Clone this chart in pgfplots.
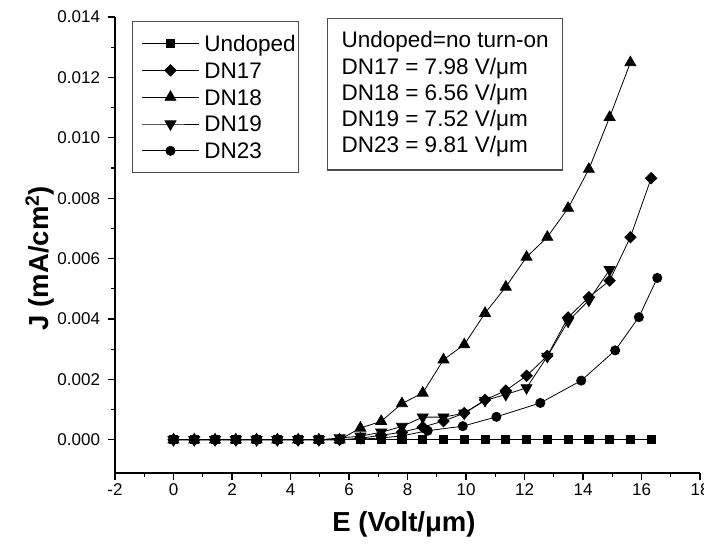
\documentclass[border=0pt]{standalone}
\usepackage{pgfplots}
\pgfplotsset{compat=1.18}
\usepackage{fontspec}
\setmainfont{Liberation Sans}
\begin{document}
\begin{tikzpicture}
\useasboundingbox (0,0) rectangle (704pt,545pt);
\begin{axis}[
  at={(115pt,72pt)}, anchor=south west,
  scale only axis, width=585pt, height=456pt,
  xmin=-2, xmax=18, ymin=-0.0011, ymax=0.014,
  axis x line=bottom, axis y line=left,
  axis line style={-, line width=1.2pt},
  xtick={-2,0,2,4,6,8,10,12,14,16,18}, minor x tick num=1,
  ytick={0,0.002,0.004,0.006,0.008,0.010,0.012,0.014}, minor y tick num=1,
  tick align=outside, major tick length=7.5pt, minor tick length=4pt,
  tick style={line width=1.2pt, black},
  scaled y ticks=false,
  /pgf/number format/assume math mode=true,
  xticklabel style={font=\fontsize{17}{20}\selectfont},
  yticklabel style={font=\fontsize{17}{20}\selectfont, xshift=-4pt,
    /pgf/number format/.cd, fixed, fixed zerofill, precision=3},
  xlabel={E (Volt/μm)}, ylabel={J (mA/cm\textsuperscript{2})},
  label style={font=\bfseries\fontsize{27.5}{30}\selectfont},
  xlabel style={at={(axis description cs:0.494,0)}, anchor=base, yshift=-59pt},
  ylabel style={at={(axis description cs:-0.1145,0.4715)}, anchor=base},
  every axis plot/.append style={line width=0.8pt, black},
  legend cell align=left,
  legend style={at={(axis description cs:0.029,0.991)}, anchor=north west,
    draw=black!70, line width=1.2pt, inner xsep=1pt, inner ysep=8.5pt,
    font=\fontsize{22.5}{26}\selectfont, column sep=3pt,
    nodes={inner xsep=2pt, inner ysep=3.4pt, text height=18pt, text depth=2pt}},
  legend image code/.code={
    \draw[mark repeat=2,mark phase=2,#1] plot coordinates {(0pt,0pt) (28.5pt,0pt) (57pt,0pt)};
    \path (-8pt,0pt);
  },
]
% Undoped
\addplot[mark=square*, mark size=4.1pt, mark options={solid, fill=black}] coordinates {
(0,0) (0.71,0) (1.42,0) (2.13,0) (2.84,0) (3.55,0) (4.26,0) (4.97,0) (5.68,0) (6.39,0) (7.10,0) (7.81,0)
(8.52,0) (9.23,0) (9.94,0) (10.65,0) (11.36,0) (12.07,0) (12.78,0) (13.49,0) (14.20,0) (14.91,0) (15.62,0) (16.33,0)};
\addlegendentry{Undoped}
% DN17
\addplot[mark=square*, mark size=4pt, mark options={solid, fill=black, rotate=45}] coordinates {
(0,0) (0.71,0) (1.42,0) (2.13,0) (2.84,0) (3.55,0) (4.26,0) (4.97,0) (5.68,0) (6.39,0.00005) (7.10,0.00015) (7.81,0.00025)
(8.52,0.00042) (9.23,0.00062) (9.94,0.00088) (10.65,0.00132) (11.36,0.00163) (12.07,0.00212) (12.78,0.00278) (13.49,0.00405)
(14.20,0.00472) (14.91,0.00527) (15.62,0.00671) (16.33,0.00866)};
\addlegendentry{DN17}
% DN18
\addplot[mark=triangle*, mark size=6.3pt, mark options={solid, fill=black}] coordinates {
(0,0) (0.71,0) (1.42,0) (2.13,0) (2.84,0) (3.55,0) (4.26,0) (4.97,0) (5.68,0) (6.39,0.00039) (7.10,0.00061) (7.81,0.00120)
(8.52,0.00155) (9.23,0.00265) (9.94,0.00315) (10.65,0.00419) (11.36,0.00506) (12.07,0.00605) (12.78,0.00671) (13.49,0.00767)
(14.20,0.00896) (14.91,0.01068) (15.62,0.01249)};
\addlegendentry{DN18}
% DN19
\addplot[mark=triangle*, mark size=6.3pt, mark options={solid, fill=black, rotate=180}] coordinates {
(0,0) (0.71,0) (1.42,0) (2.13,0) (2.84,0) (3.55,0) (4.26,0) (4.97,0) (5.68,0.00006) (6.39,0.00012) (7.10,0.00025) (7.81,0.00044)
(8.52,0.00075) (9.23,0.00075) (9.94,0.00088) (10.65,0.00130) (11.36,0.00150) (12.07,0.00172) (12.78,0.00276) (13.49,0.00392)
(14.20,0.00462) (14.91,0.00563)};
\addlegendentry{DN19}
% DN23
\addplot[mark=*, mark size=4.6pt, mark options={solid, fill=black}] coordinates {
(0,0) (0.71,0) (1.42,0) (2.13,0) (2.84,0) (3.55,0) (4.26,0) (4.97,0) (5.68,0) (6.39,0.00002) (7.10,0.00006) (7.81,0.00013)
(8.69,0.00030) (9.89,0.00045) (11.04,0.00076) (12.54,0.00122) (13.94,0.00196) (15.10,0.00296) (15.91,0.00406) (16.54,0.00536)};
\addlegendentry{DN23}
\node[draw=black!70, line width=1.2pt, anchor=north west, align=left, inner xsep=14pt, inner ysep=13pt,
  font=\fontsize{22.5}{26.2}\selectfont] at (rel axis cs:0.3624,0.9978)
  {Undoped=no turn-on\\DN17 = 7.98 V/μm\\DN18 = 6.56 V/μm\\DN19 = 7.52 V/μm\\DN23 = 9.81 V/μm};
\end{axis}
\end{tikzpicture}
\end{document}
